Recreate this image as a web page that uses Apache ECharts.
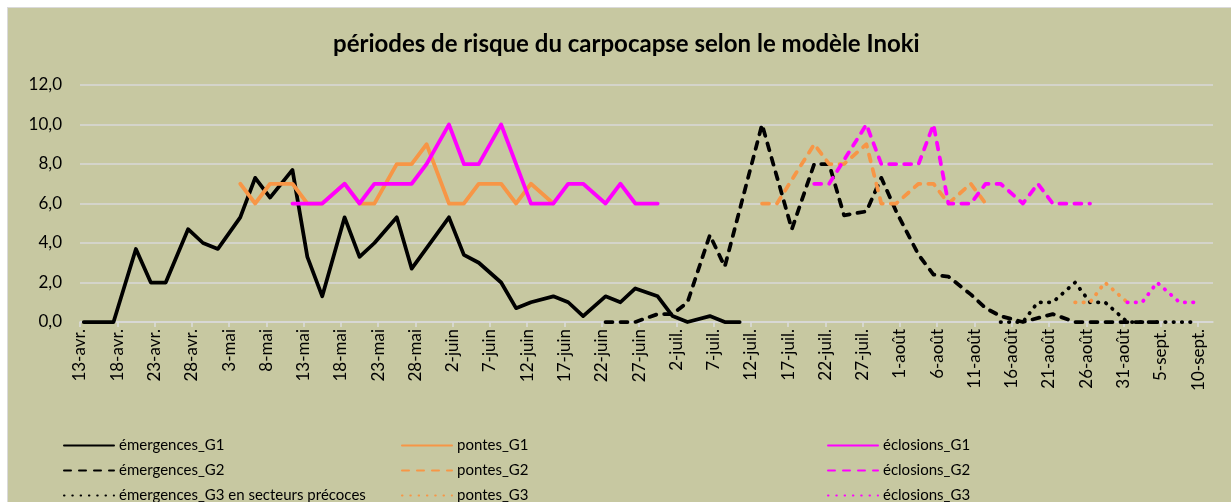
<!DOCTYPE html>
<html>
<head>
<meta charset="utf-8">
<script src="https://cdn.jsdelivr.net/npm/echarts@6/dist/echarts.min.js"></script>
<style>
  html, body { margin: 0; padding: 0; background: #ffffff; }
  #frame { position: absolute; left: 7px; top: 7px; width: 1230px; height: 500px;
           background: #c7c8a1; border-left: 1px solid #dadada; border-top: 1px solid #dadada; }
  #chart { position: absolute; left: 0; top: 0; width: 1231px; height: 502px; }
</style>
</head>
<body>
<div id="frame"></div>
<div id="chart"></div>
<script>
// Day offsets counted from 13 April (day 0).
const startYear = 2015, startMonth = 3, startDay = 13;
const monthNames = ['janv.','févr.','mars','avr.','mai','juin','juil.','août','sept.','oct.','nov.','déc.'];
const yTicks = [0, 2, 4, 6, 8, 10, 12];

const emG1Days = [0,2,4,7,9,11,14,16,18,21,23,25,28,30,32,35,37,39,42,44,49,51,53,56,58,60,63,65,67,70,72,74,77,79,81,84,86,88];
const emG1Vals = [0,0,0,3.7,2.0,2.0,4.7,4.0,3.7,5.3,7.3,6.3,7.7,3.3,1.3,5.3,3.3,4.0,5.3,2.7,5.3,3.4,3.0,2.0,0.7,1.0,1.3,1.0,0.3,1.3,1.0,1.7,1.3,0.3,0,0.3,0,0];

const poG1Days = [21,23,25,28,30,32,35,37,39,42,44,46,49,51,53,56,58,60,63];
const poG1Vals = [7,6,7,7,6,6,7,6,6,8,8,9,6,6,7,7,6,7,6];

const ecG1Days = [28,30,32,35,37,39,42,44,46,49,51,53,56,60,63,65,67,70,72,74,77];
const ecG1Vals = [6,6,6,7,6,7,7,7,8,10,8,8,10,6,6,7,7,6,7,6,6];

const emG2Days = [70,72,74,77,79,81,84,86,91,95,98,100,102,105,107,109,112,114,116,119,121,123,126,130,133,135,137,140,142,144];
const emG2Vals = [0,0,0,0.4,0.4,1.0,4.4,2.8,10.0,4.7,8.0,8.0,5.4,5.6,7.3,5.6,3.4,2.4,2.3,1.4,0.7,0.3,0,0.4,0,0,0,0,0,0];

const poG2Days = [91,93,98,100,102,105,107,109,112,114,116,119,121];
const poG2Vals = [6,6,9,8,8,9,6,6,7,7,6,7,6];

const ecG2Days = [98,100,105,107,109,112,114,116,119,121,123,126,128,130,133,135];
const ecG2Vals = [7,7,10,8,8,8,10,6,6,7,7,6,7,6,6,6];

const emG3Days = [123,126,128,130,133,135,137,140,142,144,147,149];
const emG3Vals = [0,0,1,1,2,1,1,0,0,0,0,0];

const poG3Days = [133,135,137,140];
const poG3Vals = [1,1,2,1];

const ecG3Days = [140,142,144,147,149];
const ecG3Vals = [1,1,2,1,1];

const FONT = 'Lato';
const BLACK = '#000000', ORANGE = '#f79646', MAGENTA = '#ff00ff';
const DASH = [7, 8], DOT = [0.5, 7.8];
const LW = 3.75;

function pts(days, vals) { return days.map((d, i) => [d + 0.5, vals[i]]); }
function dayLabel(v) {
  if (v % 5 !== 0 || v > 150) return '';
  const dt = new Date(startYear, startMonth, startDay + v);
  return dt.getDate() + '-' + monthNames[dt.getMonth()];
}
function mk(name, days, vals, color, type) {
  return {
    name: name, type: 'line', data: pts(days, vals), symbol: 'none', smooth: false,
    lineStyle: { color: color, width: LW, type: type, cap: 'round', join: 'round' },
    itemStyle: { color: color }, z: 2, animation: false
  };
}

const series = [
  mk('émergences_G1', emG1Days, emG1Vals, BLACK, 'solid'),
  mk('pontes_G1', poG1Days, poG1Vals, ORANGE, 'solid'),
  mk('éclosions_G1', ecG1Days, ecG1Vals, MAGENTA, 'solid'),
  mk('émergences_G2', emG2Days, emG2Vals, BLACK, DASH),
  mk('pontes_G2', poG2Days, poG2Vals, ORANGE, DASH),
  mk('éclosions_G2', ecG2Days, ecG2Vals, MAGENTA, DASH),
  mk('émergences_G3 en secteurs précoces', emG3Days, emG3Vals, BLACK, DOT),
  mk('pontes_G3', poG3Days, poG3Vals, ORANGE, DOT),
  mk('éclosions_G3', ecG3Days, ecG3Vals, MAGENTA, DOT)
];

// legend grid: 3 columns x 3 rows, one legend component per entry
const legendCols = [63, 401, 827];
const legendRows = [438, 463, 488];
const legends = series.map((s, i) => ({
  orient: 'horizontal', left: legendCols[i % 3], top: legendRows[Math.floor(i / 3)], padding: 0,
  itemWidth: 50, itemHeight: 12, data: [s.name], selectedMode: false,
  itemStyle: { color: 'transparent', borderColor: 'transparent', opacity: 0 },
  textStyle: { fontFamily: FONT, fontSize: 15, color: '#000' }
}));

const chart = echarts.init(document.getElementById('chart'), null, { renderer: 'canvas' });
chart.setOption({
  backgroundColor: 'transparent',
  animation: false,
  title: {
    text: 'périodes de risque du carpocapse selon le modèle Inoki',
    left: 328, top: 27,
    textStyle: { fontFamily: FONT, fontSize: 24, fontWeight: 'bold', color: '#000' }
  },
  legend: legends,
  grid: { left: 80, right: 18, top: 85, bottom: 180, containLabel: false },
  xAxis: {
    type: 'value', min: 0, max: 152, interval: 5,
    axisLine: { show: true, onZero: false, lineStyle: { color: '#d9d9d9', width: 1.5 } },
    axisTick: { show: true, length: 5, lineStyle: { color: '#dcdcdc', width: 1.5 } },
    splitLine: { show: false },
    axisLabel: { rotate: 90, formatter: dayLabel, margin: 7, fontFamily: FONT, fontSize: 17, color: '#000', showMaxLabel: false }
  },
  yAxis: {
    type: 'value', min: yTicks[0], max: yTicks[yTicks.length - 1], interval: 2,
    axisLine: { show: false }, axisTick: { show: false },
    splitLine: { lineStyle: { color: '#d9d9d9', width: 1.5 } },
    axisLabel: { formatter: v => v.toFixed(1).replace('.', ','), margin: 18, fontFamily: FONT, fontSize: 17, color: '#000' }
  },
  series: series
});
</script>
</body>
</html>
